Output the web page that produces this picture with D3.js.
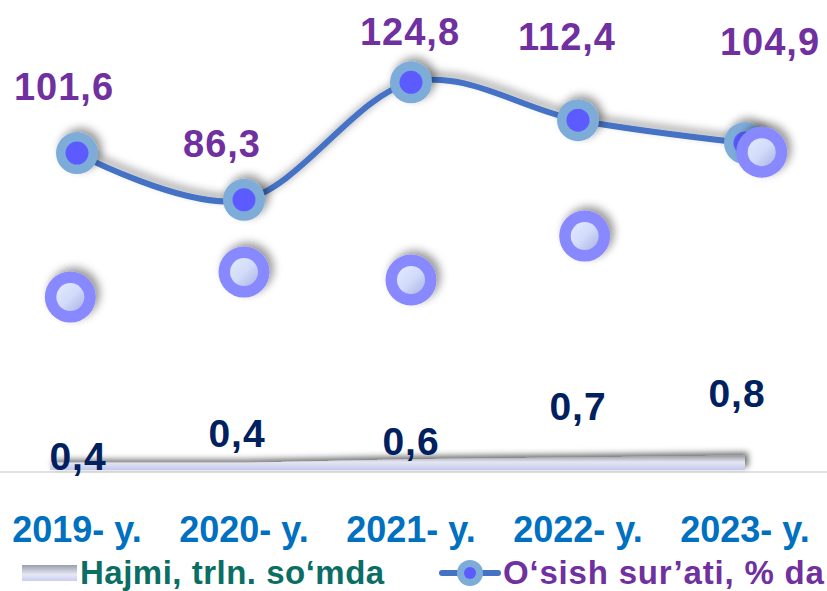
<!DOCTYPE html>
<head>
  <meta charset="utf-8">
  <script src="https://d3js.org/d3.v7.min.js"></script>
  <style>
    body { margin: 0; background: #fff; }
    text { font-family: "Liberation Sans", Arial, sans-serif; font-weight: bold; }
  </style>
</head>

<body>
  <script>

    // data
    var years = ["2019- y.", "2020- y.", "2021- y.", "2022- y.", "2023- y."];
    var growth = [101.6, 86.3, 124.8, 112.4, 104.9];          // O'sish sur'ati, % da
    var volume = [0.4, 0.4, 0.6, 0.7, 0.8];                   // Hajmi, trln. so'mda
    var volumeMarks = [54.4, 62.6, 60.0, 74.4, 101.9];        // floating volume markers
    var volumeMarkPos = [-0.04, 1, 2, 3.04, 4.1];             // their x, in category units
    var growthText = ["101,6", "86,3", "124,8", "112,4", "104,9"];
    var volumeText = ["0,4", "0,4", "0,6", "0,7", "0,8"];

    // hand placed label offsets (as in the original slide)
    var growthShift = [[-13, -53], [-22, -43], [-1, -37], [-11, -70], [25, -88]];
    var volumeShift = [[1, 2], [-7, 25], [0, 17], [0, 52], [-8, 65]];

    var W = 827, H = 591;
    var svg = d3.select("body").append("svg")
      .attr("width", W)
      .attr("height", H);

    var defs = svg.append("defs");

    var sh = defs.append("filter").attr("id", "shadow")
      .attr("x", "-50%").attr("y", "-50%").attr("width", "200%").attr("height", "200%");
    sh.append("feDropShadow")
      .attr("dx", 4).attr("dy", -4).attr("stdDeviation", 4)
      .attr("flood-color", "#000").attr("flood-opacity", 0.4);

    var sh2 = defs.append("filter").attr("id", "bandShadow")
      .attr("x", "-10%").attr("y", "-200%").attr("width", "120%").attr("height", "500%");
    sh2.append("feDropShadow")
      .attr("dx", 3).attr("dy", -3).attr("stdDeviation", 3)
      .attr("flood-color", "#000").attr("flood-opacity", 0.6);

    var bandGrad = defs.append("linearGradient").attr("id", "bandGrad")
      .attr("x1", 0).attr("y1", 0).attr("x2", 0).attr("y2", 1);
    bandGrad.append("stop").attr("offset", "0%").attr("stop-color", "#9a9aa2");
    bandGrad.append("stop").attr("offset", "45%").attr("stop-color", "#e4e6f2");
    bandGrad.append("stop").attr("offset", "100%").attr("stop-color", "#c4c8ee");

    var legGrad = defs.append("linearGradient").attr("id", "legGrad")
      .attr("x1", 0).attr("y1", 0).attr("x2", 0).attr("y2", 1);
    legGrad.append("stop").attr("offset", "0%").attr("stop-color", "#9a9eac");
    legGrad.append("stop").attr("offset", "60%").attr("stop-color", "#e6e8f4");
    legGrad.append("stop").attr("offset", "100%").attr("stop-color", "#c9cdf3");

    var dotGrad = defs.append("linearGradient").attr("id", "dotGrad")
      .attr("x1", 0).attr("y1", 0).attr("x2", 1).attr("y2", 1);
    dotGrad.append("stop").attr("offset", "0%").attr("stop-color", "#e2eaff");
    dotGrad.append("stop").attr("offset", "50%").attr("stop-color", "#d2dcfa");
    dotGrad.append("stop").attr("offset", "100%").attr("stop-color", "#aab2e2");

    // scales
    var x = d3.scalePoint().domain(years).range([77, 745]);
    var xi = d3.scaleLinear().domain([0, years.length - 1]).range([77, 745]);
    var y = d3.scaleLinear().domain([0, 130]).range([463, 66.5]);
    var yVol = d3.scaleLinear().domain([0, 1]).range([470, 452]);
    var axisY = 472;

    // x axis line
    svg.append("line")
      .attr("x1", 0).attr("x2", W)
      .attr("y1", axisY).attr("y2", axisY)
      .attr("stroke", "#d9d9d9").attr("stroke-width", 1.5);

    // volume ribbon
    var area = d3.area()
      .x(function(d, i) { return i === 0 ? xi(i) - 27 : xi(i); })
      .y0(yVol(0))
      .y1(function(d) { return yVol(d); });

    svg.append("path")
      .datum(volume)
      .attr("d", area)
      .attr("fill", "url(#bandGrad)")
      .attr("filter", "url(#bandShadow)");

    // growth line
    var line = d3.line()
      .x(function(d, i) { return x(years[i]); })
      .y(function(d) { return y(d); })
      .curve(d3.curveCardinal.tension(0));

    svg.append("path")
      .datum(growth)
      .attr("d", line)
      .attr("fill", "none")
      .attr("stroke", "#4472c4")
      .attr("stroke-width", 6)
      .attr("filter", "url(#shadow)");

    var gm = svg.selectAll(".gmark").data(growth).enter()
      .append("g").attr("class", "gmark")
      .attr("transform", function(d, i) { return "translate(" + x(years[i]) + "," + y(d) + ")"; });
    gm.append("circle").attr("r", 21).attr("fill", "#7eacd9").attr("filter", "url(#shadow)");
    gm.append("circle").attr("r", 11.5).attr("fill", "#5b5bff");

    // floating volume markers
    var vm = svg.selectAll(".vmark").data(volumeMarks).enter()
      .append("g").attr("class", "vmark")
      .attr("transform", function(d, i) { return "translate(" + xi(volumeMarkPos[i]) + "," + y(d) + ")"; });
    vm.append("circle").attr("r", 25.5).attr("fill", "#8888ff").attr("filter", "url(#shadow)");
    vm.append("circle").attr("r", 14).attr("fill", "url(#dotGrad)");

    // growth labels
    svg.selectAll(".glabel").data(growth).enter()
      .append("text").attr("class", "glabel")
      .attr("x", function(d, i) { return x(years[i]) + growthShift[i][0]; })
      .attr("y", function(d, i) { return y(d) + growthShift[i][1]; })
      .attr("text-anchor", "middle")
      .style("font-size", "38px")
      .style("letter-spacing", "1px")
      .style("fill", "#7030a0")
      .text(function(d, i) { return growthText[i]; });

    // volume labels
    svg.selectAll(".vlabel").data(volume).enter()
      .append("text").attr("class", "vlabel")
      .attr("x", function(d, i) { return x(years[i]) + volumeShift[i][0]; })
      .attr("y", function(d, i) { return axisY - volumeShift[i][1]; })
      .attr("text-anchor", "middle")
      .style("font-size", "39px")
      .style("letter-spacing", "1px")
      .style("fill", "#002060")
      .text(function(d, i) { return volumeText[i]; });

    // category labels
    svg.selectAll(".xlabel").data(years).enter()
      .append("text").attr("class", "xlabel")
      .attr("x", function(d) { return x(d); })
      .attr("y", 542)
      .attr("text-anchor", "middle")
      .style("font-size", "36px")
      .style("fill", "#0070c0")
      .text(function(d) { return d; });

    // legend
    var leg = svg.append("g");
    leg.append("rect")
      .attr("x", 22).attr("y", 565).attr("width", 55).attr("height", 16)
      .attr("fill", "url(#legGrad)");
    leg.append("text")
      .attr("x", 80).attr("y", 584)
      .style("font-size", "33px")
      .style("letter-spacing", "0.5px")
      .style("fill", "#0b6e64")
      .text("Hajmi, trln. so‘mda");

    leg.append("line")
      .attr("x1", 442).attr("x2", 498).attr("y1", 573).attr("y2", 573)
      .attr("stroke", "#4472c4").attr("stroke-width", 6).attr("stroke-linecap", "round");
    leg.append("circle").attr("cx", 470).attr("cy", 573).attr("r", 13).attr("fill", "#7eacd9");
    leg.append("circle").attr("cx", 470).attr("cy", 573).attr("r", 6).attr("fill", "#5b5bff");
    leg.append("text")
      .attr("x", 503).attr("y", 584)
      .style("font-size", "33px")
      .style("letter-spacing", "0.8px")
      .style("fill", "#7030a0")
      .text("O‘sish sur’ati, % da");

  </script>
</body>
